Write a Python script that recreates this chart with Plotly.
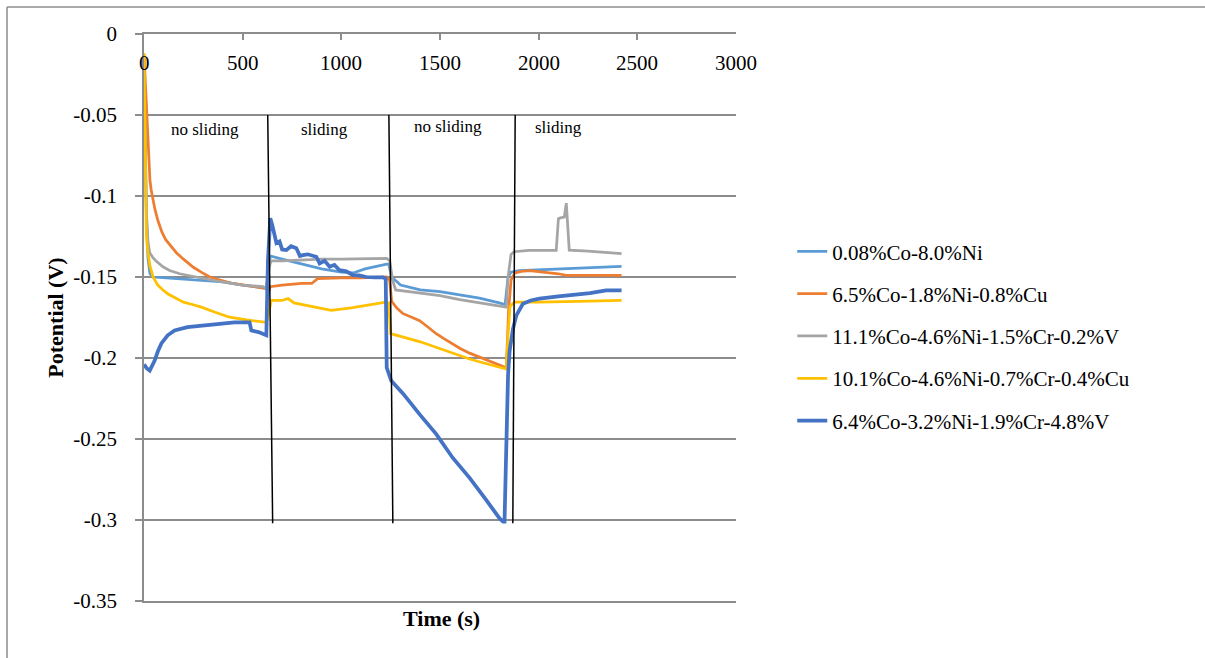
import plotly.graph_objects as go

# ---------------- data ----------------
names = [
    "0.08%Co-8.0%Ni",
    "6.5%Co-1.8%Ni-0.8%Cu",
    "11.1%Co-4.6%Ni-1.5%Cr-0.2%V",
    "10.1%Co-4.6%Ni-0.7%Cr-0.4%Cu",
    "6.4%Co-3.2%Ni-1.9%Cr-4.8%V",
]
colors = ["#5B9BD5", "#ED7D31", "#A5A5A5", "#FFC000", "#4472C4"]
widths = [2.75, 2.75, 2.75, 2.75, 3.75]

t1 = [0, 5, 12, 20, 30, 45, 100, 200, 300, 400, 500, 560, 620,
      628, 640, 700, 800, 900, 1000, 1060, 1120, 1200, 1230,
      1240, 1255, 1300, 1400, 1500, 1600, 1700, 1800, 1830,
      1845, 1860, 1900, 2000, 2200, 2420]
v1 = [-0.015, -0.06, -0.11, -0.138, -0.148, -0.150, -0.1505, -0.151, -0.152, -0.153, -0.155, -0.156, -0.157,
      -0.150, -0.137, -0.139, -0.142, -0.145, -0.147, -0.1475, -0.145, -0.1425, -0.142,
      -0.142, -0.150, -0.155, -0.158, -0.159, -0.161, -0.163, -0.166, -0.167,
      -0.150, -0.147, -0.146, -0.1455, -0.1445, -0.1435]

t2 = [0, 3, 6, 10, 15, 20, 25, 30, 36, 42, 55, 70, 90, 110, 135, 164, 200, 250, 290, 333, 390, 450, 510, 570, 620,
      628, 640, 700, 800, 850, 880, 1000, 1100, 1230,
      1245, 1255, 1280, 1311, 1350, 1397, 1440, 1481, 1520, 1560, 1600, 1650, 1700, 1750, 1800, 1836,
      1848, 1860, 1878, 1910, 1954, 2000, 2050, 2100, 2140, 2300, 2420]
v2 = [-0.012, -0.020, -0.032, -0.045, -0.060, -0.072, -0.082, -0.090, -0.096, -0.100, -0.108, -0.115, -0.122, -0.127, -0.131, -0.135, -0.139, -0.144, -0.147, -0.150, -0.152, -0.154, -0.155, -0.156, -0.157,
      -0.160, -0.156, -0.155, -0.154, -0.154, -0.151, -0.1505, -0.1505, -0.150,
      -0.152, -0.165, -0.169, -0.1725, -0.1745, -0.177, -0.181, -0.185, -0.188, -0.191, -0.194, -0.197, -0.1995, -0.202, -0.204, -0.206,
      -0.170, -0.152, -0.1477, -0.1465, -0.146, -0.1465, -0.147, -0.148, -0.149, -0.149, -0.149]

t3 = [0, 5, 12, 20, 29, 45, 60, 96, 130, 181, 260, 348, 420, 500, 603, 620,
      630, 645, 700, 800, 900, 1000, 1100, 1230,
      1245, 1260, 1275, 1400, 1500, 1600, 1700, 1836,
      1845, 1860, 1875, 1950, 2089, 2100, 2110, 2130, 2140, 2146, 2155, 2250, 2350, 2420]
v3 = [-0.015, -0.06, -0.11, -0.128, -0.135, -0.138, -0.140, -0.1437, -0.146, -0.148, -0.150, -0.152, -0.1535, -0.155, -0.156, -0.157,
      -0.145, -0.140, -0.140, -0.1395, -0.139, -0.139, -0.1388, -0.1385,
      -0.140, -0.152, -0.158, -0.160, -0.1615, -0.164, -0.166, -0.1686,
      -0.150, -0.136, -0.1344, -0.1335, -0.1335, -0.114, -0.1135, -0.113, -0.1044, -0.115, -0.1334, -0.134, -0.135, -0.1355]

t4 = [0, 4, 8, 12, 20, 30, 46, 70, 96, 122, 160, 200, 245, 291, 360, 434, 520, 611, 620,
      628, 645, 700, 730, 760, 850, 949, 1050, 1150, 1225,
      1240, 1250, 1400, 1532, 1650, 1750, 1836,
      1845, 1855, 1878, 2000, 2200, 2420]
v4 = [-0.012, -0.05, -0.10, -0.125, -0.135, -0.143, -0.150, -0.155, -0.158, -0.1605, -0.163, -0.1655, -0.167, -0.1686, -0.1718, -0.1748, -0.1765, -0.178, -0.178,
      -0.175, -0.1644, -0.1645, -0.1633, -0.166, -0.168, -0.1706, -0.169, -0.167, -0.1655,
      -0.166, -0.185, -0.190, -0.1955, -0.2006, -0.204, -0.2068,
      -0.185, -0.168, -0.1655, -0.1655, -0.165, -0.1644]

t5 = [0, 4, 15, 29, 40, 54, 70, 88, 120, 155, 220, 291, 380, 459, 535, 544, 580, 611, 620,
      628, 640, 650, 671, 687, 700, 721, 745, 772, 790, 805, 830, 873, 890, 915, 941, 965, 991, 1025, 1059, 1090, 1127, 1170, 1211, 1225,
      1230, 1253, 1313, 1397, 1481, 1565, 1650, 1730, 1802, 1820, 1827,
      1833, 1836, 1845, 1853, 1870, 1887, 1920, 1960, 2004, 2100, 2173, 2260, 2342, 2420]
v5 = [-0.204, -0.205, -0.2065, -0.2078, -0.205, -0.2016, -0.196, -0.191, -0.186, -0.183, -0.181, -0.180, -0.179, -0.178, -0.178, -0.183, -0.184, -0.186, -0.186,
      -0.140, -0.1137, -0.118, -0.129, -0.128, -0.133, -0.1334, -0.131, -0.1323, -0.137, -0.1365, -0.136, -0.1375, -0.1416, -0.140, -0.1437, -0.1425, -0.1458, -0.1465, -0.1489, -0.149, -0.150, -0.1502, -0.1503, -0.151,
      -0.206, -0.2141, -0.222, -0.2348, -0.247, -0.2617, -0.274, -0.287, -0.299, -0.301, -0.301,
      -0.270, -0.247, -0.210, -0.1955, -0.182, -0.1737, -0.1665, -0.1645, -0.1634, -0.162, -0.1613, -0.160, -0.1582, -0.1582]

times = [t1, t2, t3, t4, t5]
values = [v1, v2, v3, v4, v5]

xtick_vals = [0, 500, 1000, 1500, 2000, 2500, 3000]
xtick_text = ["0", "500", "1000", "1500", "2000", "2500", "3000"]
ytick_vals = [0, -0.05, -0.1, -0.15, -0.2, -0.25, -0.3, -0.35]
ytick_text = ["0", "-0.05", "-0.1", "-0.15", "-0.2", "-0.25", "-0.3", "-0.35"]

# phase separators (top x, bottom x) and phase labels
sep_x_top = [627, 1241, 1881]
sep_x_bottom = [652, 1261, 1869]
sep_y_top, sep_y_bottom = -0.05, -0.302
phase_labels = ["no sliding", "sliding", "no sliding", "sliding"]
phase_x = [307, 916, 1541, 2103]
phase_y = [-0.059, -0.059, -0.057, -0.058]

FONT = "Liberation Serif"
GRID = "#8C8C8C"

fig = go.Figure()
for i in range(5):
    fig.add_trace(go.Scatter(
        x=times[i], y=values[i], mode="lines", name=names[i],
        legendgroup=f"g{i}",
        line=dict(color=colors[i], width=widths[i]),
    ))

for xt, xb in zip(sep_x_top, sep_x_bottom):
    fig.add_shape(type="line", xref="x", yref="y", x0=xt, x1=xb,
                  y0=sep_y_top, y1=sep_y_bottom,
                  line=dict(color="black", width=1.5))

for txt, px, py in zip(phase_labels, phase_x, phase_y):
    fig.add_annotation(x=px, y=py, xref="x", yref="y", text=txt, showarrow=False,
                       font=dict(family=FONT, size=17, color="black"))

# x tick labels sit just below the top axis line, inside the plot (Excel style)
for xv, xt in zip(xtick_vals, xtick_text):
    fig.add_annotation(x=xv, y=0.949, xref="x", yref="paper", text=xt, showarrow=False,
                       xanchor="center", yanchor="middle",
                       font=dict(family=FONT, size=21, color="black"))

# axis titles
fig.add_annotation(x=0.502, y=-0.03, xref="paper", yref="paper", text="<b>Time (s)</b>",
                   showarrow=False, font=dict(family=FONT, size=22, color="black"),
                   xanchor="center", yanchor="middle")
fig.add_annotation(x=-0.150, y=0.5, xref="paper", yref="paper", text="<b>Potential (V)</b>",
                   showarrow=False, textangle=-90, font=dict(family=FONT, size=22, color="black"),
                   xanchor="center", yanchor="middle")

# outer frame (top and left edges visible)
fig.add_shape(type="line", xref="paper", yref="paper", x0=-0.2314, x1=1.80, y0=1.0476, y1=1.0476,
              line=dict(color=GRID, width=1.5))
fig.add_shape(type="line", xref="paper", yref="paper", x0=-0.2314, x1=-0.2314, y0=1.0476, y1=-0.11,
              line=dict(color=GRID, width=1.5))

fig.update_layout(
    width=1205, height=658,
    margin=dict(l=144, r=469, t=34, b=57),
    paper_bgcolor="white", plot_bgcolor="white",
    font=dict(family=FONT, size=21, color="black"),
    showlegend=True,
    legend=dict(x=1.095, y=0.467, xanchor="left", yanchor="middle",
                font=dict(family=FONT, size=21, color="black"),
                traceorder="grouped", tracegroupgap=12,
                bgcolor="rgba(0,0,0,0)"),
    xaxis=dict(side="top", range=[0, 3000], tickvals=xtick_vals,
               ticks="inside", ticklen=6, tickcolor=GRID, tickwidth=1.5,
               showticklabels=False,
               showline=True, linecolor=GRID, linewidth=1.5, mirror=True,
               showgrid=False, zeroline=False),
    yaxis=dict(range=[-0.35, 0], tickvals=ytick_vals, ticktext=ytick_text,
               ticks="outside", ticklen=7, tickcolor=GRID, tickwidth=1.5,
               ticklabelstandoff=14,
               showline=True, linecolor=GRID, linewidth=1.5,
               showgrid=True, gridcolor=GRID, gridwidth=1.5, zeroline=False,
               tickfont=dict(family=FONT, size=21, color="black")),
)

fig.write_html("out.html")
